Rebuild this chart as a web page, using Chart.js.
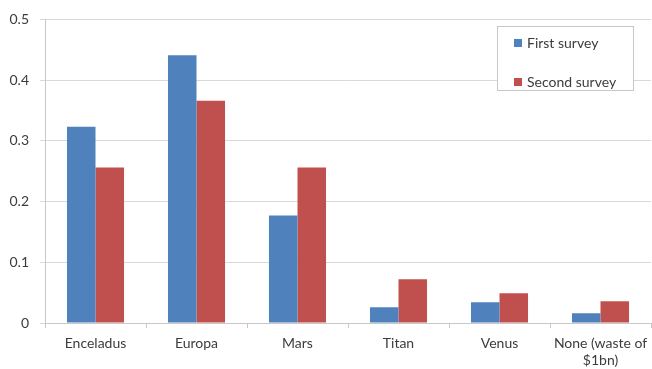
<!DOCTYPE html>
<html>
<head>
<meta charset="utf-8">
<script src="https://cdn.jsdelivr.net/npm/chart.js@4.4.1/dist/chart.umd.min.js"></script>
<style>
  html, body { margin: 0; padding: 0; background: #fff; }
  #wrap { width: 652px; height: 369px; }
</style>
</head>
<body>
<div id="wrap"><canvas id="c" width="652" height="369"></canvas></div>
<script>
// Survey categories and the share of votes in each survey
const categories = ['Enceladus', 'Europa', 'Mars', 'Titan', 'Venus', ['None (waste of', '$1bn)']];
const firstSurvey = [0.323, 0.441, 0.177, 0.026, 0.034, 0.016];
const secondSurvey = [0.256, 0.366, 0.256, 0.072, 0.049, 0.036];
const seriesNames = ['First survey', 'Second survey'];
const yTicks = [0, 0.1, 0.2, 0.3, 0.4, 0.5];

const FONT = 'Lato, "Open Sans", sans-serif';
const TEXT = '#3c3c3c';

// Boxed legend drawn inside the plot area, top right
const boxLegend = {
  id: 'boxLegend',
  afterDraw(chart) {
    const ctx = chart.ctx;
    const x = 497, y = 26, w = 137, h = 65;
    ctx.save();
    ctx.fillStyle = '#fff';
    ctx.fillRect(x, y, w, h);
    ctx.strokeStyle = '#c8c8c8';
    ctx.lineWidth = 1;
    ctx.strokeRect(x + 0.5, y + 0.5, w - 1, h - 1);
    ctx.font = '14px ' + FONT;
    ctx.textBaseline = 'middle';
    ctx.textAlign = 'left';
    const rows = [43, 82];
    chart.data.datasets.forEach((ds, i) => {
      ctx.fillStyle = ds.backgroundColor;
      ctx.fillRect(514, rows[i] - 4, 8, 8);
      ctx.fillStyle = TEXT;
      ctx.fillText(ds.label, 527, rows[i]);
    });
    ctx.restore();
  }
};

new Chart(document.getElementById('c'), {
  type: 'bar',
  data: {
    labels: categories,
    datasets: [
      { label: seriesNames[0], data: firstSurvey, backgroundColor: '#4f81bd' },
      { label: seriesNames[1], data: secondSurvey, backgroundColor: '#c0504d' }
    ]
  },
  options: {
    responsive: false,
    animation: false,
    layout: { padding: { top: 18, right: 1, left: 0, bottom: 0 } },
    datasets: { bar: { categoryPercentage: 0.565, barPercentage: 1 } },
    plugins: { legend: { display: false }, tooltip: { enabled: false } },
    scales: {
      x: {
        afterFit(s) { s.height = 46; s.paddingLeft = 0; s.paddingRight = 0; },
        grid: { drawOnChartArea: false, color: '#c8c8c8', tickLength: 5, offset: true },
        border: { color: '#c8c8c8' },
        ticks: { color: TEXT, font: { family: FONT, size: 14 }, padding: 7, maxRotation: 0, autoSkip: false }
      },
      y: {
        min: 0, max: 0.5,
        afterFit(s) { s.width = 45; },
        afterBuildTicks(s) { s.ticks = yTicks.map(v => ({ value: v })); },
        grid: { color: '#d9d9d9', tickLength: 5 },
        border: { color: '#c8c8c8' },
        ticks: {
          color: TEXT, font: { family: FONT, size: 14 }, padding: 11,
          callback: v => String(Math.round(v * 10) / 10)
        }
      }
    }
  },
  plugins: [boxLegend]
});
</script>
</body>
</html>
